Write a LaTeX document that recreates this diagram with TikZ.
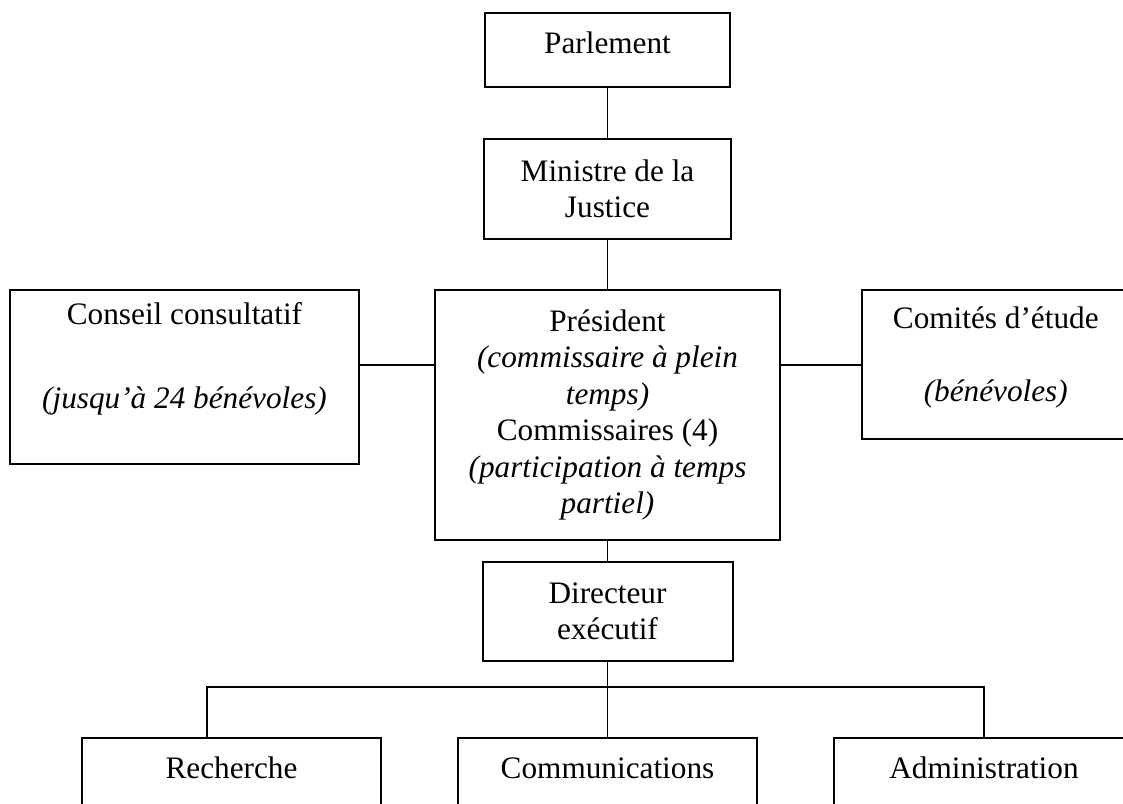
\documentclass[tikz,border=0pt]{standalone}
\usepackage{fontspec}
\setmainfont{Liberation Serif}
\usetikzlibrary{positioning}

\begin{document}
\begin{tikzpicture}[
  x=0.4pt, y=-0.4pt,
  every node/.style={font=\fontsize{12.5}{14.6}\selectfont},
  box/.style={draw, line width=0.8pt, align=center, inner sep=2pt},
  unit/.style={box, minimum width=119.6pt, text height=12pt, text depth=24pt, inner ysep=4pt},
  link/.style={line width=0.75pt}
]
\clip (0,0) rectangle (1123,803);

% ===== Spine =====
\node[box, minimum width=98pt, minimum height=29.6pt, text depth=5.6pt] (parl) at (607.5,50) {Parlement};
\node[box, below=20pt of parl, minimum width=98.8pt, minimum height=40pt] (mini) {Ministre de la\\Justice};
\node[box, below=19.6pt of mini, minimum width=138pt, minimum height=100pt] (pres)
  {Président\\
   \textit{(commissaire à plein}\\
   \textit{temps)}\\
   Commissaires (4)\\
   \textit{(participation à temps}\\
   \textit{partiel)}};
\node[box, below=8pt of pres, minimum width=100pt, minimum height=39.6pt] (dir) {Directeur\\exécutif};

% ----- Side bodies -----
\node[box, left=29.6pt of pres.north west, anchor=north east, minimum width=139.6pt,
      minimum height=69.6pt, text depth=17pt] (cons)
  {Conseil consultatif\\[19pt]\textit{(jusqu’à 24 bénévoles)}};
\node[box, right=32pt of pres.north east, anchor=north west, minimum width=107pt,
      minimum height=59.6pt, text depth=8.6pt] (comi)
  {Comités d’étude\\[14.6pt]\textit{(bénévoles)}};

% ----- Bottom units -----
\node[unit, below=30pt of dir] (comm) {Communications};
\node[unit, left=30pt of comm] (rech) {Recherche};
\node[unit, right=30pt of comm, minimum width=120pt] (admi) {Administration};

% ===== Edges =====
\draw[link] (parl) -- (mini);
\draw[link] (mini) -- (pres);
\coordinate (presL) at ([yshift=20pt]pres.west);
\coordinate (presR) at ([yshift=20pt]pres.east);
\draw[link] (presL) -- (presL -| cons.east);
\draw[link] (presR) -- (presR -| comi.west);
\draw[link] (pres) -- (dir);

% bus to the three units
\coordinate (bus) at ([yshift=-10pt]dir.south);
\draw[link] (dir.south) -- (comm.north);
\draw[link] ([xshift=-9.8pt]rech.north) |- (bus) -| (admi.north);
\end{tikzpicture}
\end{document}
